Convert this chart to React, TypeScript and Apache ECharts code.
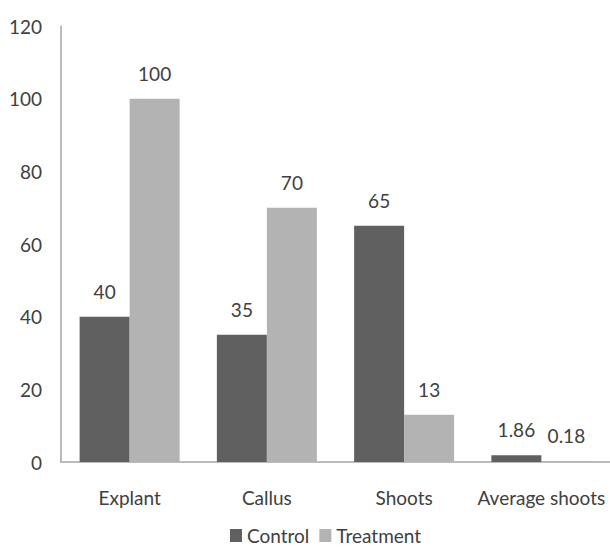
import React, { useEffect, useRef } from "react";
import * as echarts from "echarts";

const categories = ["Explant", "Callus", "Shoots", "Average shoots"];
const controlValues = [40, 35, 65, 1.86];
const treatmentValues = [100, 70, 13, 0.18];
const yMin = 0;
const yMax = 120;
const yInterval = 20;

const FONT = "Lato, 'Noto Sans', sans-serif";
const TEXT = "#404040";

export default function App() {
  const ref = useRef<HTMLDivElement>(null);
  useEffect(() => {
    if (!ref.current) return;
    const chart = echarts.init(ref.current, undefined, { renderer: "svg" });
    const label = {
      show: true,
      position: "top",
      distance: 16,
      color: TEXT,
      fontFamily: FONT,
      fontSize: 19,
    };
    chart.setOption({
      animation: false,
      backgroundColor: "#ffffff",
      textStyle: { fontFamily: FONT },
      grid: { left: 61, top: 26, bottom: 85, width: 554 },
      legend: {
        left: 225,
        top: 521,
        itemWidth: 12,
        itemHeight: 13,
        itemGap: 10,
        textStyle: { color: TEXT, fontFamily: FONT, fontSize: 19, padding: [0, 0, 0, 0] },
        icon: "rect",
        data: ["Control", "Treatment"],
      },
      xAxis: {
        type: "category",
        data: categories,
        axisLine: { lineStyle: { color: "#a6a6a6", width: 1.5 } },
        axisTick: { show: false },
        axisLabel: { color: TEXT, fontFamily: FONT, fontSize: 19, margin: 26, interval: 0 },
      },
      yAxis: {
        type: "value",
        min: yMin,
        max: yMax,
        interval: yInterval,
        axisLine: { show: true, lineStyle: { color: "#a6a6a6", width: 1.5 } },
        axisTick: { show: false },
        splitLine: { show: false },
        axisLabel: { color: TEXT, fontFamily: FONT, fontSize: 19, margin: 19 },
      },
      series: [
        {
          name: "Control",
          type: "bar",
          data: controlValues,
          barWidth: 50,
          barGap: "0%",
          itemStyle: { color: "#606060" },
          label,
        },
        {
          name: "Treatment",
          type: "bar",
          data: treatmentValues,
          barWidth: 50,
          itemStyle: { color: "#b3b3b3" },
          label,
        },
      ],
    });
    return () => chart.dispose();
  }, []);
  return <div ref={ref} style={{ width: 610, height: 547, position: "absolute", left: 0, top: 0 }} />;
}
